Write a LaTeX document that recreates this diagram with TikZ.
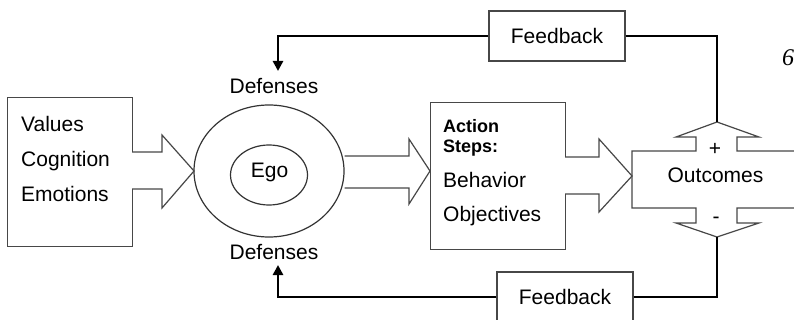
\documentclass[tikz,border=0pt]{standalone}
\usepackage{fontspec}
\setmainfont{Liberation Sans}
\newfontfamily\pageserif{Liberation Serif}
\usetikzlibrary{shapes.geometric,arrows.meta}
\tikzset{
  boxline/.style={draw=black!72, line width=1.2pt},
  txt/.style={inner sep=0pt, font=\fontsize{21}{25}\selectfont},
  boldtxt/.style={inner sep=0pt, font=\fontsize{18}{21}\selectfont\bfseries},
  fbline/.style={line width=2.6pt, black},
  fbarrow/.style={fbline, -{Triangle[length=10pt,width=10pt]}},
  blockarrow/.style={draw=black!72, line width=1.2pt, line join=miter},
}
\begin{document}
\begin{tikzpicture}[x=1pt,y=-1pt]
\useasboundingbox (0,0) rectangle (794,320);
\clip (0,0) rectangle (794,320);
\fill[white] (0,0) rectangle (794,320);

% left input box
\node[boxline, anchor=north west, minimum width=125pt, minimum height=149pt, inner sep=0pt] (inp) at (7,97) {};
\node[txt, anchor=base west] (val) at (21,132) {Values};
\node[txt, anchor=base west] (cog) at (21,167) {Cognition};
\node[txt, anchor=base west] (emo) at (21,202) {Emotions};

% ego ellipses
\node[draw=black!80, line width=1.2pt, ellipse, minimum width=150pt, minimum height=132pt, inner sep=0pt] (outer) at (269,171) {};
\node[draw=black!80, line width=1.2pt, ellipse, minimum width=77pt, minimum height=60pt, inner sep=0pt] (inner) at (269,175) {};
\node[txt, anchor=base] (ego) at (269.5,178) {Ego};
\node[txt, anchor=base] (deftop) at (274,94) {Defenses};
\node[txt, anchor=base] (defbot) at (274,259) {Defenses};

% action box
\node[boxline, anchor=north west, minimum width=135pt, minimum height=147pt, inner sep=0pt] (act) at (430,102) {};
\node[boldtxt, anchor=base west] (acta) at (443,133) {Action};
\node[boldtxt, anchor=base west] (actb) at (443,153) {Steps:};
\node[txt, anchor=base west] (beh) at (443,188) {Behavior};
\node[txt, anchor=base west] (obj) at (443,222) {Objectives};

% gaps where block arrows join boxes
\fill[white] (129,152) rectangle (135,189);
\fill[white] (562,157) rectangle (568,194);

% block arrow 1: input -> ego
\draw[blockarrow] (132,152) -- (162,152) -- (162,135) -- (194,171) -- (162,208) -- (162,189) -- (132,189);
% block arrow 2: ego -> action
\draw[blockarrow] (344.5,156) -- (409,156) -- (409,139) -- (430,171) -- (409,204) -- (409,188) -- (344.5,188);
% block arrow 3: action -> outcomes
\draw[blockarrow] (565,157) -- (599,157) -- (599,139) -- (632,176) -- (599,212) -- (599,194) -- (565,194);

% outcomes cross shape
\draw[blockarrow] (800,151) -- (737,151) -- (737,137) -- (759,137) -- (717,122) -- (676,137) -- (696,137) -- (696,151)
  -- (632,151) -- (632,208) -- (696,208) -- (696,223) -- (676,223) -- (717,237) -- (759,223) -- (737,223) -- (737,208) -- (800,208);
\coordinate (uptip) at (717,122);
\coordinate (downtip) at (717,237);
\node[txt, anchor=base] (out) at (715.5,183) {Outcomes};
\node[txt, anchor=center] (plus) at (715,149) {+};
\node[txt, anchor=center] (minus) at (716,220) {-};

% feedback boxes
\node[boxline, minimum width=136pt, minimum height=50pt, inner sep=0pt, font=\fontsize{21}{25}\selectfont] (fbtop) at (557,36) {Feedback};
\node[boxline, minimum width=136pt, minimum height=50pt, inner sep=0pt, font=\fontsize{21}{25}\selectfont] (fbbot) at (565,297) {Feedback};

\coordinate (dtarr) at (278,71);
\coordinate (dbarr) at (278,265);
\draw[fbarrow] (fbtop.west) -| (dtarr);
\draw[fbline] (fbtop.east) -| (uptip);
\draw[fbarrow] (fbbot.west) -| (dbarr);
\draw[fbline] (fbbot.east) -| (downtip);

% page number fragment
\node[inner sep=0pt, anchor=base west, font=\pageserif\itshape\fontsize{24}{28}\selectfont] (pg) at (782,66) {6};
\end{tikzpicture}
\end{document}
